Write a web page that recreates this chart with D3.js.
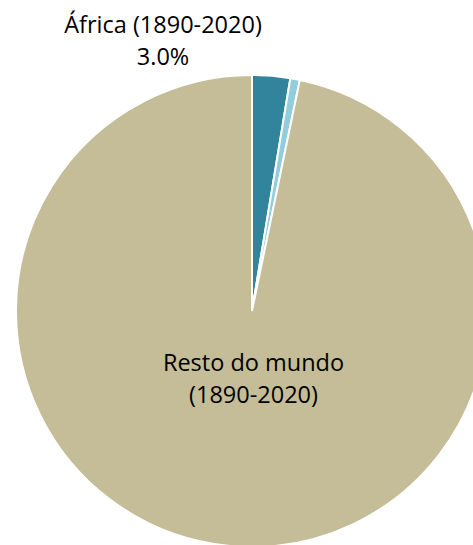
<!DOCTYPE html>
<html>
<head>
<meta charset="utf-8">
<script src="https://cdn.jsdelivr.net/npm/d3@7"></script>
<style>
  html, body { margin: 0; padding: 0; background: #ffffff; }
  svg text { font-family: "Open Sans", "Noto Sans", sans-serif; fill: #000000; }
</style>
</head>
<body>
<svg id="chart" width="473" height="545"></svg>
<script>
// slices, clockwise from 12 o'clock
var categories = ["África (1890-2020)", "África (outros)", "Resto do mundo (1890-2020)"];
var shares = [2.6, 0.65, 96.75];
var colors = ["#31849B", "#92CDDC", "#C4BD97"];
var africaLabel = ["África (1890-2020)", "3.0%"];
var restLabel = ["Resto do mundo", "(1890-2020)"];

var width = 473, height = 545;
var cx = 252, cy = 311, radius = 236;

var svg = d3.select("#chart");
var g = svg.append("g").attr("transform", "translate(" + cx + "," + cy + ")");

var pie = d3.pie().sort(null).value(function (d) { return d; });
var arc = d3.arc().innerRadius(0).outerRadius(radius);

var slices = pie(shares);

g.selectAll("path.slice")
    .data(slices)
    .enter().append("path")
    .attr("class", "slice")
    .attr("d", arc)
    .attr("fill", function (d, i) { return colors[i]; })
    .attr("stroke", "#ffffff")
    .attr("stroke-width", 2)
    .attr("stroke-linejoin", "miter");

// Africa label sits above the pie, left of the top
var fs = 23.5;
var lab = g.append("text")
    .attr("text-anchor", "middle")
    .attr("font-size", fs);
africaLabel.forEach(function (t, i) {
    lab.append("tspan")
        .attr("x", -89)
        .attr("y", -278 + i * 32)
        .text(t);
});

// rest-of-world label inside the big slice
var lab2 = g.append("text")
    .attr("text-anchor", "middle")
    .attr("font-size", fs);
restLabel.forEach(function (t, i) {
    lab2.append("tspan")
        .attr("x", 1.5)
        .attr("y", 60 + i * 32)
        .text(t);
});
</script>
</body>
</html>
